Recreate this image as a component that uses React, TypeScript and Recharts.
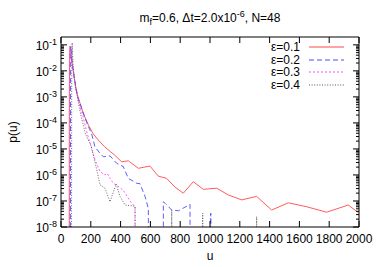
import React from 'react';
import { LineChart, Line, XAxis, YAxis, Legend, ReferenceLine } from 'recharts';

// "Z" marks a bin with no counts (drawn below the log axis, clipped away)
const Z = 1e-12;

const uEps1 = [55, 56, 58, 61, 66, 72, 80, 90, 100, 115, 128, 140, 160, 185, 215, 250, 293, 330, 360, 407, 452, 519, 597, 653, 709, 765, 821, 888, 955, 1045, 1123, 1213, 1313, 1414, 1526, 1649, 1783, 1928, 2000];
const pEps1 = [Z, 1e-3, 0.05, 0.085, 0.05, 0.025, 0.012, 0.005, 0.0022, 9e-4, 5.7e-4, 3.4e-4, 1.7e-4, 8e-5, 3.9e-5, 2.2e-5, 1.2e-5, 8e-6, 5.8e-6, 3.2e-6, 3.5e-6, 1.8e-6, 2.2e-6, 9e-7, 7.4e-7, 3.4e-7, 2e-7, 5.5e-7, 2.8e-7, 3.1e-7, 1.7e-7, 1.1e-7, 1.5e-7, 4.5e-8, 8.5e-8, 6e-8, 3.7e-8, 7e-8, 3.4e-8];

const uEps2 = [63, 64, 66, 72, 80, 90, 100, 115, 128, 140, 160, 185, 205, 228, 260, 284, 329, 374, 418, 452, 508, 530, 564, 586, 590, 687, 687, 700, 743, 788, 866, 866, 1005, 1005, 1005];
const pEps2 = [Z, 5e-3, 0.09, 0.03, 0.013, 0.005, 0.0022, 9e-4, 5.7e-4, 3.3e-4, 1.6e-4, 7e-5, 3.9e-5, 1.2e-5, 7e-6, 5e-6, 5.4e-6, 2.8e-6, 2.1e-6, 7.4e-7, 4.8e-7, 4.6e-7, 1.5e-7, 5.2e-8, Z, Z, 9.3e-8, 8e-8, 4.5e-8, 4.2e-8, 7.4e-8, Z, Z, 3.4e-8, Z];

const uEps3 = [57, 58, 60, 66, 72, 80, 90, 100, 115, 128, 148, 176, 200, 228, 262, 295, 310, 329, 351, 374, 418, 463, 497, 497];
const pEps3 = [Z, 5e-3, 0.09, 0.04, 0.022, 0.012, 0.0045, 0.002, 8e-4, 4.2e-4, 1.7e-4, 3.9e-5, 1.4e-5, 3.8e-6, 1.35e-6, 1e-6, 1.15e-6, 7.4e-7, 4.8e-7, 4e-7, 2.6e-7, 1e-7, 6e-8, Z];

const uEps4 = [70, 72, 75, 78, 82, 90, 100, 110, 120, 136, 165, 200, 228, 262, 295, 329, 370, 396, 430, 497, 497, 743, 743, 743, 951, 951, 951, 1313, 1313, 1313];
const pEps4 = [Z, 0.01, 0.12, 0.04, 0.015, 0.005, 0.002, 1e-3, 4.5e-4, 1.7e-4, 3.6e-5, 1.4e-5, 3.2e-6, 4.2e-7, 3.1e-7, 9.3e-8, 4.5e-7, 1.5e-7, 7e-8, 6.3e-8, Z, Z, 4.5e-8, Z, Z, 3.4e-8, Z, Z, 2.5e-8, Z];

const seriesNames = ['ε=0.1', 'ε=0.2', 'ε=0.3', 'ε=0.4'];
const xTicks = [0, 200, 400, 600, 800, 1000, 1200, 1400, 1600, 1800, 2000];
const yExps = [-8, -7, -6, -5, -4, -3, -2, -1];
const yMinorMult = [1, 2, 3, 4, 5, 6, 7, 8, 9];

const yTicks: number[] = [];
yExps.forEach((e) => {
  if (e === -1) { yTicks.push(0.1); return; }
  yMinorMult.forEach((m) => yTicks.push(m * Math.pow(10, e)));
});

const toData = (us: number[], ps: number[]) => us.map((u, i) => ({ u, p: ps[i] }));
const d1 = toData(uEps1, pEps1);
const d2 = toData(uEps2, pEps2);
const d3 = toData(uEps3, pEps3);
const d4 = toData(uEps4, pEps4);

const FONT = '"Liberation Sans", Arial, Helvetica, sans-serif';
const W = 382, H = 267;
const M = { top: 37, right: 23, left: 0, bottom: 0 };
const YW = 61, XH = 40;
const PLOT_W = W - M.left - M.right - YW;
const PLOT_H = H - M.top - M.bottom - XH;

const styles = [
  { color: '#ff4a4a', dash: undefined as string | undefined },
  { color: '#4a4aff', dash: '5 3' },
  { color: '#ff4aff', dash: '2 2' },
  { color: '#555555', dash: '1 1.6' },
];

function YTick(props: any) {
  const { x, y, payload } = props;
  const lg = Math.log10(payload.value);
  const major = Math.abs(lg - Math.round(lg)) < 1e-6;
  const len = major ? 6 : 3;
  return (
    <g>
      <line x1={x} x2={x + len} y1={y} y2={y} stroke="#000" strokeWidth={1} />
      <line x1={x + PLOT_W} x2={x + PLOT_W - len} y1={y} y2={y} stroke="#000" strokeWidth={1} />
      {major && (
        <text x={x - 4} y={y + 5} textAnchor="end" fontSize={12} fontFamily={FONT} fill="#000">
          10<tspan dy={-5} fontSize={9}>{Math.round(lg)}</tspan>
        </text>
      )}
    </g>
  );
}

function XTick(props: any) {
  const { x, y, payload } = props;
  return (
    <g>
      <line x1={x} x2={x} y1={y} y2={y - 6} stroke="#000" strokeWidth={1} />
      <line x1={x} x2={x} y1={y - PLOT_H} y2={y - PLOT_H + 6} stroke="#000" strokeWidth={1} />
      <text x={x} y={y + 16} textAnchor="middle" fontSize={12} fontFamily={FONT} fill="#000">
        {payload.value}
      </text>
    </g>
  );
}

function LegendContent() {
  return (
    <div style={{ fontFamily: FONT, fontSize: 12, color: '#000' }}>
      {seriesNames.map((n, i) => (
        <div key={n} style={{ display: 'flex', alignItems: 'center', justifyContent: 'flex-end', height: 12.6, lineHeight: '12.6px' }}>
          <span>{n}</span>
          <svg width={44} height={6} style={{ display: 'block' }}>
            <line x1={9} x2={44} y1={3} y2={3} stroke={styles[i].color} strokeWidth={1} strokeDasharray={styles[i].dash} />
          </svg>
        </div>
      ))}
    </div>
  );
}

export default function App() {
  const cx = M.left + YW + PLOT_W / 2;
  const cy = M.top + PLOT_H / 2;
  return (
    <div style={{ position: 'absolute', left: 0, top: 0, width: W, height: H, background: '#fff' }}>
      <LineChart width={W} height={H} margin={M}>
        <XAxis
          dataKey="u"
          type="number"
          domain={[0, 2000]}
          ticks={xTicks}
          interval={0}
          height={XH}
          tickSize={0}
          tickMargin={0}
          tickLine={false}
          tick={<XTick />}
          axisLine={{ stroke: '#000' }}
          allowDuplicatedCategory={false}
        />
        <YAxis
          dataKey="p"
          type="number"
          scale="log"
          domain={[1e-8, 0.2]}
          allowDataOverflow
          ticks={yTicks}
          interval={0}
          width={YW}
          tickSize={0}
          tickMargin={0}
          tickLine={false}
          tick={<YTick />}
          axisLine={{ stroke: '#000' }}
        />
        <ReferenceLine y={0.2} stroke="#000" strokeWidth={1} ifOverflow="visible" />
        <ReferenceLine x={2000} stroke="#000" strokeWidth={1} ifOverflow="visible" />
        <Line data={d1} dataKey="p" name={seriesNames[0]} type="linear" stroke={styles[0].color} strokeWidth={0.9} dot={false} isAnimationActive={false} />
        <Line data={d2} dataKey="p" name={seriesNames[1]} type="linear" stroke={styles[1].color} strokeDasharray={styles[1].dash} strokeWidth={0.9} dot={false} isAnimationActive={false} />
        <Line data={d3} dataKey="p" name={seriesNames[2]} type="linear" stroke={styles[2].color} strokeDasharray={styles[2].dash} strokeWidth={0.9} dot={false} isAnimationActive={false} />
        <Line data={d4} dataKey="p" name={seriesNames[3]} type="linear" stroke={styles[3].color} strokeDasharray={styles[3].dash} strokeWidth={0.9} dot={false} isAnimationActive={false} />
        <Legend
          layout="horizontal"
          verticalAlign="middle"
          align="center"
          content={<LegendContent />}
          wrapperStyle={{ position: 'absolute', left: 244, top: 41, width: 100, height: 52 }}
        />
        <text x={cx} y={22} textAnchor="middle" fontSize={12} fontFamily={FONT} fill="#000">
          m<tspan dy={3} fontSize={9}>f</tspan><tspan dy={-3}>=0.6, Δt=2.0x10</tspan><tspan dy={-5} fontSize={9}>-6</tspan><tspan dy={5}>, N=48</tspan>
        </text>
        <text x={13} y={cy} textAnchor="middle" dominantBaseline="central" fontSize={12} fontFamily={FONT} fill="#000" transform={`rotate(-90 13 ${cy})`}>
          p(u)
        </text>
        <text x={cx} y={260} textAnchor="middle" fontSize={12} fontFamily={FONT} fill="#000">
          u
        </text>
      </LineChart>
    </div>
  );
}
